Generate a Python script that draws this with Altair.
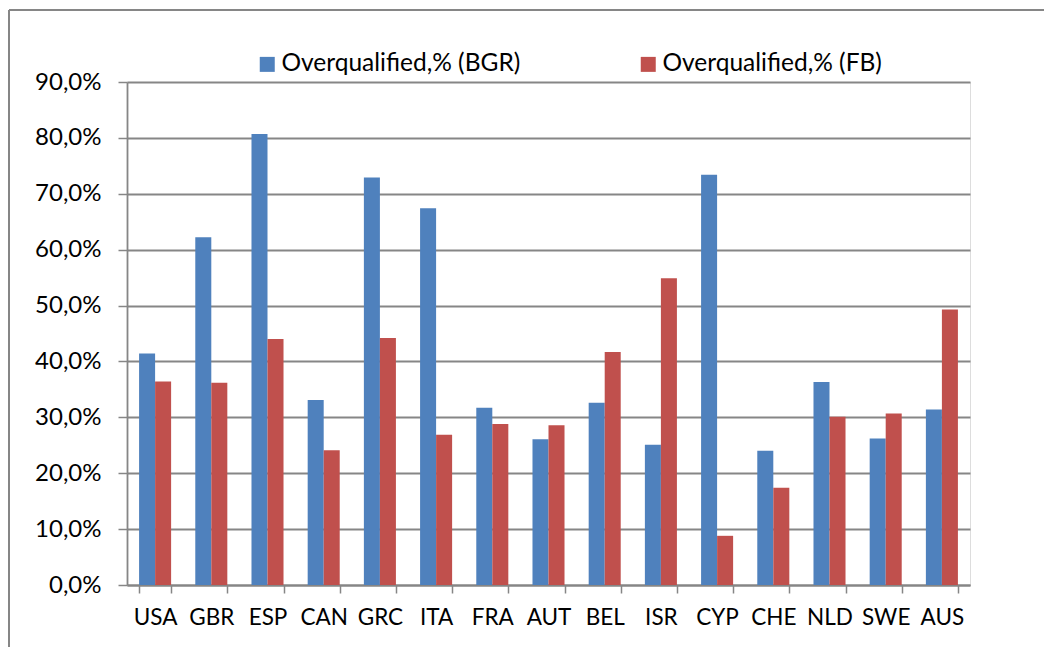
import altair as alt
import pandas as pd

countries = ["USA", "GBR", "ESP", "CAN", "GRC", "ITA", "FRA", "AUT",
             "BEL", "ISR", "CYP", "CHE", "NLD", "SWE", "AUS"]
series = ["Overqualified,% (BGR)", "Overqualified,% (FB)"]
bgr = [41.4, 62.2, 80.7, 33.1, 72.9, 67.4, 31.7, 26.1, 32.6, 25.1, 73.4, 24.0, 36.3, 26.2, 31.4]
fb = [36.4, 36.2, 44.0, 24.1, 44.2, 26.9, 28.8, 28.6, 41.7, 54.9, 8.8, 17.4, 30.1, 30.7, 49.3]
y_ticks = [0, 10, 20, 30, 40, 50, 60, 70, 80, 90]

rows = []
for c, b, f in zip(countries, bgr, fb):
    rows.append({"country": c, "series": series[0], "value": b})
    rows.append({"country": c, "series": series[1], "value": f})
df = pd.DataFrame(rows)

FONT = "Lato"
GRAY = "#868686"

bars = alt.Chart(df).mark_bar().encode(
    x=alt.X("country:N", sort=countries,
            scale=alt.Scale(paddingInner=0.43, paddingOuter=0.215),
            axis=alt.Axis(title=None, labelAngle=0, tickBand="extent",
                          labelFontSize=22.5, labelFont=FONT, labelColor="#000000",
                          labelPadding=13, tickSize=8, tickColor=GRAY, tickWidth=1.5,
                          domainColor=GRAY, domainWidth=1.8, grid=False)),
    xOffset=alt.XOffset("series:N", sort=series,
                        scale=alt.Scale(paddingInner=0, paddingOuter=0)),
    y=alt.Y("value:Q", scale=alt.Scale(domain=[0, 90], nice=False),
            axis=alt.Axis(title=None, values=y_ticks,
                          labelExpr="replace(format(datum.value, '.1f'), '.', ',') + '%'",
                          labelFontSize=24, labelFont=FONT, labelColor="#000000",
                          labelPadding=17, tickSize=9, tickColor=GRAY, tickWidth=1.5,
                          domainColor=GRAY, domainWidth=1.8,
                          grid=True, gridColor=GRAY, gridWidth=1.8)),
    color=alt.Color("series:N", sort=series,
                    scale=alt.Scale(domain=series, range=["#4F81BD", "#C0504D"]),
                    legend=alt.Legend(title=None, orient="none", legendX=128, legendY=-30,
                                      direction="horizontal", columns=2, columnPadding=115,
                                      symbolType="square", symbolSize=225,
                                      symbolStrokeWidth=0, labelOffset=2, labelLimit=500,
                                      labelFontSize=24.5, labelFont=FONT,
                                      labelColor="#000000", padding=0)),
)

frame_df = pd.DataFrame({"k": [0]})
frame_left = alt.Chart(frame_df).mark_rule(color=GRAY, strokeWidth=2).encode(
    x=alt.value(-118), y=alt.value(-72), y2=alt.value(570))
frame_top = alt.Chart(frame_df).mark_rule(color=GRAY, strokeWidth=2).encode(
    x=alt.value(-118), x2=alt.value(930), y=alt.value(-72))

chart = alt.layer(frame_left, frame_top, bars).properties(
    width=843, height=503,
    autosize="none",
    padding={"left": 119, "top": 74, "right": 74, "bottom": 62},
).configure_view(stroke=None).configure(background="#ffffff")

chart.save("out.html", embed_options={"renderer": "svg", "actions": False})
